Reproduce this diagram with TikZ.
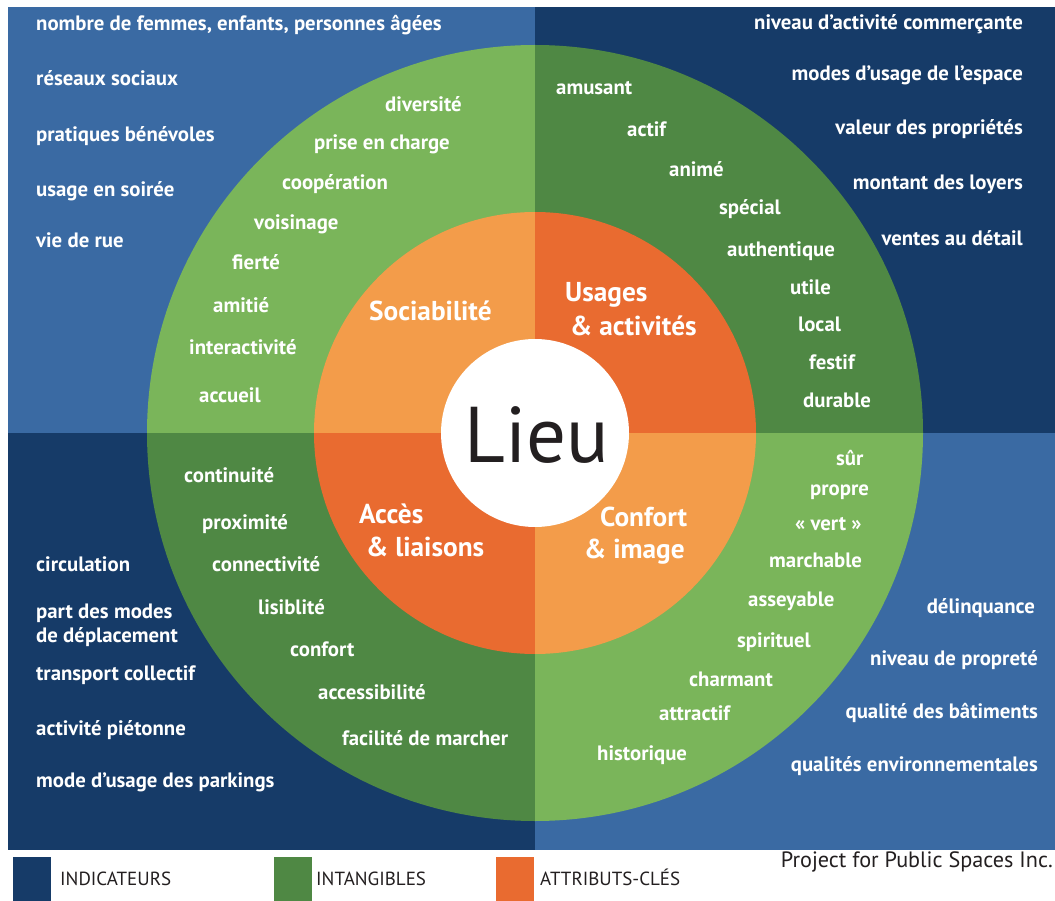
\documentclass[tikz,border=0pt]{standalone}
\usepackage{fontspec}
\setmainfont{PT Sans}
\definecolor{lblue}{HTML}{3A6AA3}
\definecolor{navy}{HTML}{163B68}
\definecolor{lgreen}{HTML}{7AB55A}
\definecolor{dgreen}{HTML}{4F8844}
\definecolor{lorange}{HTML}{F39C4A}
\definecolor{dorange}{HTML}{E96B30}
\definecolor{ink}{HTML}{231F20}
\begin{document}
\begin{tikzpicture}[x=1pt,y=1pt,
  wt/.style={text=white, font=\fontsize{20.8}{24}\selectfont\bfseries, inner sep=0pt, yshift=-4.5pt},
  wl/.style={wt, anchor=mid west},
  wr/.style={wt, anchor=mid east},
  big/.style={text=white, font=\fontsize{27.3}{32}\selectfont\bfseries, inner sep=0pt, anchor=mid west, yshift=-6pt},
  leg/.style={text=ink, font=\fontsize{19}{22}\selectfont, inner sep=0pt, anchor=mid west, yshift=-4pt},
  sq/.style={minimum width=38pt, minimum height=44pt, inner sep=0pt, anchor=north west}]
\useasboundingbox (0,0) rectangle (1055,-901);
\fill[white] (0,0) rectangle (1055,-901);
% background quadrants
\fill[lblue] (8,-7) rectangle (535,-433);
\fill[navy] (535,-7) rectangle (1055,-433);
\fill[navy] (8,-433) rectangle (535,-850);
\fill[lblue] (535,-433) rectangle (1055,-850);
\coordinate (c) at (535,-433);
% green ring
\fill[lgreen] (c) -- ++(90:388) arc (90:180:388) -- cycle;
\fill[dgreen] (c) -- ++(0:388) arc (0:90:388) -- cycle;
\fill[dgreen] (c) -- ++(180:388) arc (180:270:388) -- cycle;
\fill[lgreen] (c) -- ++(270:388) arc (270:360:388) -- cycle;
% orange ring
\fill[lorange] (c) -- ++(90:221) arc (90:180:221) -- cycle;
\fill[dorange] (c) -- ++(0:221) arc (0:90:221) -- cycle;
\fill[dorange] (c) -- ++(180:221) arc (180:270:221) -- cycle;
\fill[lorange] (c) -- ++(270:221) arc (270:360:221) -- cycle;
% centre
\node[circle, fill=white, minimum size=188pt, inner sep=0pt] (centre) at (c) {};
\node[text=ink, font=\fontsize{79}{84}\selectfont, inner sep=0pt] (lieu) at (537,-435) {Lieu};
% key attributes
\node[big] (soc) at (369,-312) {Sociabilité};
\node[big] (usa1) at (565,-293) {Usages};
\node[big] (usa2) at (570,-327) {\& activités};
\node[big] (acc1) at (359,-515) {Accès};
\node[big] (acc2) at (366,-548) {\& liaisons};
\node[big] (con1) at (600,-518) {Confort};
\node[big] (con2) at (584,-550) {\& image};
% indicators top-left
\node[wl] (i1) at (36,-24) {nombre de femmes, enfants, personnes âgées};
\node[wl] (i2) at (36,-79) {réseaux sociaux};
\node[wl] (i3) at (36,-135) {pratiques bénévoles};
\node[wl] (i4) at (36,-190) {usage en soirée};
\node[wl] (i5) at (36,-241) {vie de rue};
% indicators top-right
\node[wr] (j1) at (1023,-23) {niveau d’activité commerçante};
\node[wr] (j2) at (1023,-74) {modes d’usage de l’espace};
\node[wr] (j3) at (1023,-128) {valeur des propriétés};
\node[wr] (j4) at (1023,-183) {montant des loyers};
\node[wr] (j5) at (1023,-239) {ventes au détail};
% indicators bottom-left
\node[wl] (k1) at (36,-564) {circulation};
\node[wl] (k2) at (36,-611) {part des modes};
\node[wl] (k3) at (36,-635) {de déplacement};
\node[wl] (k4) at (36,-673) {transport collectif};
\node[wl] (k5) at (36,-728) {activité piétonne};
\node[wl] (k6) at (36,-780) {mode d’usage des parkings};
% indicators bottom-right
\node[wr] (l1) at (1035,-606) {délinquance};
\node[wr] (l2) at (1038,-658) {niveau de propreté};
\node[wr] (l3) at (1038,-711) {qualité des bâtiments};
\node[wr] (l4) at (1038,-764) {qualités environnementales};
% intangibles top-left
\node[wl] (a1) at (385,-105) {diversité};
\node[wl] (a2) at (314,-143) {prise en charge};
\node[wl] (a3) at (282,-183) {coopération};
\node[wl] (a4) at (254,-223) {voisinage};
\node[wl] (a5) at (232,-263) {fierté};
\node[wl] (a6) at (213,-306) {amitié};
\node[wl] (a7) at (189,-348) {interactivité};
\node[wl] (a8) at (199,-395) {accueil};
% intangibles top-right
\node[wl] (b1) at (556,-88) {amusant};
\node[wl] (b2) at (627,-130) {actif};
\node[wl] (b3) at (669,-170) {animé};
\node[wl] (b4) at (719,-208) {spécial};
\node[wl] (b5) at (727,-250) {authentique};
\node[wl] (b6) at (790,-288) {utile};
\node[wl] (b7) at (798,-325) {local};
\node[wl] (b8) at (809,-362) {festif};
\node[wl] (b9) at (803,-400) {durable};
% intangibles bottom-left
\node[wl] (d1) at (184,-475) {continuité};
\node[wl] (d2) at (202,-522) {proximité};
\node[wl] (d3) at (212,-564) {connectivité};
\node[wl] (d4) at (258,-607) {lisiblité};
\node[wl] (d5) at (290,-649) {confort};
\node[wl] (d6) at (318,-692) {accessibilité};
\node[wl] (d7) at (342,-738) {facilité de marcher};
% intangibles bottom-right
\node[wl] (e1) at (836,-458) {sûr};
\node[wl] (e2) at (810,-488) {propre};
\node[wl] (e3) at (795,-523) {« vert »};
\node[wl] (e4) at (769,-560) {marchable};
\node[wl] (e5) at (748,-599) {asseyable};
\node[wl] (e6) at (737,-640) {spirituel};
\node[wl] (e7) at (689,-679) {charmant};
\node[wl] (e8) at (659,-713) {attractif};
\node[wl] (e9) at (597,-753) {historique};
% legend
\node[sq, fill=navy] (s1) at (13,-857) {};
\node[leg] (t1) at (60,-879) {INDICATEURS};
\node[sq, fill=dgreen] (s2) at (274,-857) {};
\node[leg] (t2) at (316,-879) {INTANGIBLES};
\node[sq, fill=dorange] (s3) at (496,-857) {};
\node[leg] (t3) at (540,-879) {ATTRIBUTS-CLÉS};
\node[text=ink, font=\fontsize{22.2}{26}\selectfont, inner sep=0pt, anchor=mid east, yshift=-4pt] (pps) at (1053,-861) {Project for Public Spaces Inc.};
\end{tikzpicture}
\end{document}
